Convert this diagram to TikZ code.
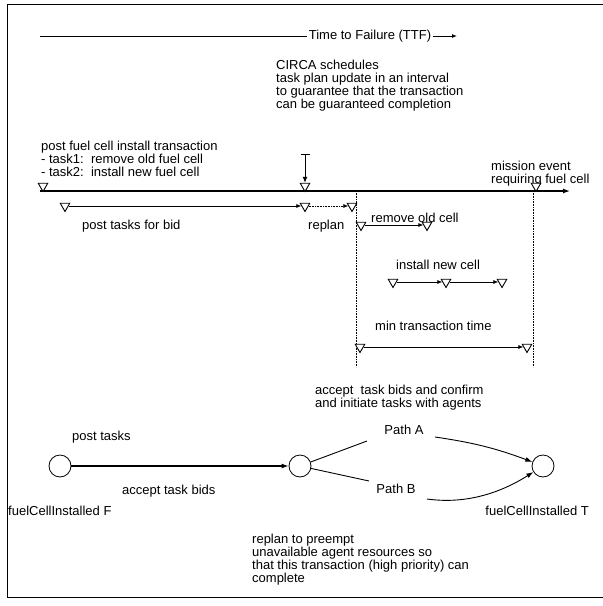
\documentclass[tikz,border=0pt]{standalone}
\usepackage{fontspec}
\setmainfont{Liberation Sans}
\usetikzlibrary{arrows.meta,shapes.geometric}
\begin{document}
\begin{tikzpicture}[x=1pt,y=-1pt,
  every node/.style={font=\fontsize{13}{13}\selectfont, inner sep=0pt},
  txt/.style={align=left, anchor=west},
  blk/.style={align=left, anchor=north west},
  tri/.style={regular polygon, regular polygon sides=3, shape border rotate=180, draw, fill=white, minimum size=11pt, inner sep=0pt, line width=0.9pt},
  st/.style={circle, draw, minimum size=22pt, line width=0.8pt},
  tip/.style={-{Latex[length=5pt,width=4pt]}},
  thinl/.style={line width=0.6pt},
  vdot/.style={line width=0.6pt, densely dotted},
]
\useasboundingbox (0,0) rectangle (603,606);
% frame
\coordinate (fTR) at (603,4);
\coordinate (fTL) at (7,4);
\coordinate (fBL) at (7,597);
\coordinate (fBR) at (603,597);
\draw[line width=0.9pt] (fTR) -- (fTL) -- (fBL) -- (fBR);

% Time to failure
\node[inner xsep=2pt] (ttf) at (370,36) {Time to Failure (TTF)};
\coordinate (ttfL) at (40,36);
\coordinate (ttfR) at (457,36);
\draw[line width=0.9pt] (ttfL) -- (ttf.west);
\draw[line width=0.9pt, tip] (ttf.east) -- (ttfR);

% texts top
\node[blk] (circa) at (276,60) {CIRCA schedules\\task plan update in an interval\\to guarantee that the transaction\\can be guaranteed completion};
\node[blk] (post) at (41,141) {post fuel cell install transaction\\- task1:\ \ remove old fuel cell\\- task2:\ \ install new fuel cell};
\node[blk] (mission) at (491,161) {mission event\\requiring fuel cell};

% main timeline
\coordinate (mlS) at (40,191);
\coordinate (mlE) at (570,191);
\draw[line width=1.3pt, -{Latex[length=7pt,width=5pt]}] (mlS) -- (mlE);
\node[tri] (m1) at (43,186) {};
\node[tri] (m2) at (305,186) {};
\node[tri] (m3) at (536,186) {};
\coordinate (barTop) at (305,154);
\draw[line width=1pt, {Bar[width=9pt]}-{Latex[length=6pt,width=5pt]}] (barTop) -- (m2);

% vertical dotted lines
\coordinate (v1t) at (356,191);
\coordinate (v1b) at (356,367);
\coordinate (v2t) at (533,191);
\coordinate (v2b) at (533,367);
\draw[vdot] (v1t) -- (v1b);
\draw[vdot] (v2t) -- (v2b);

% row 2
\node[tri] (a1) at (65,206) {};
\node[tri] (a2) at (305,206) {};
\node[tri] (a3) at (352,206) {};
\draw[thinl, tip] (a1) -- (a2);
\draw[thinl, densely dotted, tip] (a2) -- (a3);
\node[txt] (ptb) at (82,226) {post tasks for bid};
\node[txt] (rep) at (308,226) {replan};

% remove old cell
\node[txt] (roc) at (371,218) {remove old cell};
\node[tri] (b1) at (361,225) {};
\node[tri] (b2) at (427,225) {};
\draw[thinl, tip] (b1) -- (b2);

% install new cell
\node[txt] (inc) at (396,265) {install new cell};
\node[tri] (c1) at (393,282) {};
\node[tri] (c2) at (446,282) {};
\node[tri] (c3) at (502,282) {};
\draw[thinl, tip] (c1) -- (c2);
\draw[thinl, tip] (c2) -- (c3);

% min transaction time
\node[txt] (mtt) at (375,326) {min transaction time};
\node[tri] (d1) at (360,347) {};
\node[tri] (d2) at (527,347) {};
\draw[thinl, tip] (d1) -- (d2);

% lower state graph
\node[blk] (acc) at (315,385) {accept\ \ task bids and confirm\\and initiate tasks with agents};
\node (pa) at (404,430) {Path A};
\node (pb) at (396,489) {Path B};
\node[txt] (pt) at (72,437) {post tasks};
\node[st] (s1) at (60,466) {};
\node[st] (s2) at (300,466) {};
\node[st] (s3) at (543,466) {};
\draw[line width=1.6pt, -{Latex[length=7pt,width=5pt]}] (s1) -- (s2);
\node[txt] (atb) at (122,491) {accept task bids};
\node[txt] (fF) at (8,511) {fuelCellInstalled F};
\node[anchor=east] (fT) at (589,511) {fuelCellInstalled T};
\node[blk] (rpl) at (252,534) {replan to preempt\\unavailable agent resources so\\that this transaction (high priority) can\\complete};

\coordinate (paL) at (367,441);
\coordinate (pbL) at (369,481);
\coordinate (paR) at (435,437);
\coordinate (pbR) at (427,499);
\draw[line width=0.9pt] (s2) -- (paL);
\draw[line width=0.9pt] (s2) -- (pbL);
\draw[line width=0.9pt, -{Latex[length=7pt,width=5pt]}] (paR) to[bend left=6] (s3);
\draw[line width=0.9pt, -{Latex[length=7pt,width=5pt]}] (pbR) .. controls (470,505) and (505,490) .. (s3);
\end{tikzpicture}
\end{document}
